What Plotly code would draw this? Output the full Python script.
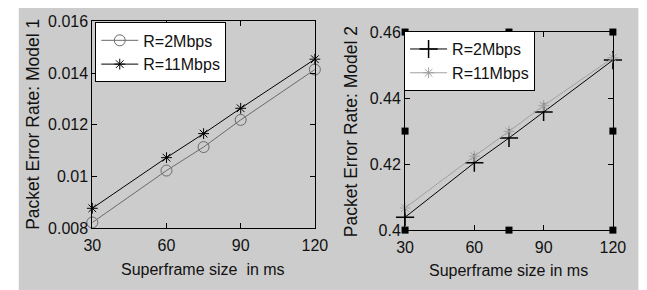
import plotly.graph_objects as go

W, H = 647, 290
# the photographed page appears slightly stretched; compensate positions
SX, SY = 1.02, 1.04

# ---- data ----
superframe_ms = [30, 60, 75, 90, 120]
model1_2mbps = [0.00822, 0.01023, 0.01114, 0.01219, 0.01414]
model1_11mbps = [0.00877, 0.01073, 0.01166, 0.01264, 0.01454]
model2_2mbps = [0.4039, 0.4204, 0.4279, 0.4358, 0.4515]
model2_11mbps = [0.4067, 0.4224, 0.4299, 0.4377, 0.4522]

# MATLAB selection handles visible on the right axes
handle_x = [30, 75, 120, 30, 120, 30, 75, 120]
handle_y = [0.46, 0.46, 0.46, 0.43, 0.43, 0.40, 0.40, 0.40]

x_ticks = [30, 60, 90, 120]
y1_ticks = [0.008, 0.010, 0.012, 0.014, 0.016]
y1_ticktext = ["0.008", "0.01", "0.012", "0.014", "0.016"]
y2_ticks = [0.40, 0.42, 0.44, 0.46]
y2_ticktext = ["0.4", "0.42", "0.44", "0.46"]

FONT = "Liberation Sans, Arial, sans-serif"
TXT = "#111111"


def px(xp):
    return xp / SX / W


def py(yp):
    return 1 - yp / SY / H


fig = go.Figure()

fig.add_trace(go.Scatter(
    x=superframe_ms, y=model1_2mbps, name="R=2Mbps", mode="lines+markers",
    line=dict(color="#6a6a6a", width=1),
    marker=dict(symbol="circle-open", size=11, color="#6a6a6a", line=dict(width=1)),
    xaxis="x", yaxis="y", legend="legend", cliponaxis=False))
fig.add_trace(go.Scatter(
    x=superframe_ms, y=model1_11mbps, name="R=11Mbps", mode="lines+markers",
    line=dict(color="#000000", width=1),
    marker=dict(symbol="asterisk-open", size=9, color="#000000", line=dict(width=1)),
    xaxis="x", yaxis="y", legend="legend", cliponaxis=False))

fig.add_trace(go.Scatter(
    x=superframe_ms, y=model2_2mbps, name="R=2Mbps", mode="lines+markers",
    line=dict(color="#000000", width=1),
    marker=dict(symbol="cross-thin-open", size=13, color="#000000", line=dict(width=1.5)),
    xaxis="x2", yaxis="y2", legend="legend2", cliponaxis=False))
fig.add_trace(go.Scatter(
    x=superframe_ms, y=model2_11mbps, name="R=11Mbps", mode="lines+markers",
    line=dict(color="#a0a0a0", width=1),
    marker=dict(symbol="asterisk-open", size=9, color="#a0a0a0", line=dict(width=1)),
    xaxis="x2", yaxis="y2", legend="legend2", cliponaxis=False))
fig.add_trace(go.Scatter(
    x=handle_x, y=handle_y, mode="markers", showlegend=False,
    marker=dict(symbol="square", size=7, color="#000000"),
    xaxis="x2", yaxis="y2", cliponaxis=False, hoverinfo="skip"))

axis_common = dict(
    showgrid=False, zeroline=False, showline=True, linecolor="#000000", linewidth=1,
    mirror="ticks", ticks="inside", ticklen=5, tickwidth=1, tickcolor="#000000",
    tickfont=dict(family=FONT, size=16, color=TXT), automargin=False,
)

legend_common = dict(
    xanchor="left", yanchor="top", bgcolor="#ffffff", bordercolor="#000000",
    borderwidth=1, font=dict(family=FONT, size=16, color=TXT),
    tracegroupgap=0, itemwidth=37,
)

fig.update_layout(
    template="none",
    width=W, height=H,
    margin=dict(l=0, r=0, t=0, b=0),
    paper_bgcolor="#ffffff",
    plot_bgcolor="#ffffff",
    xaxis=dict(domain=[px(86), px(313)], range=[30, 120], tickvals=x_ticks,
               anchor="y", ticklabelstandoff=3, **axis_common),
    yaxis=dict(domain=[py(229), py(14)], range=[0.008, 0.016], tickvals=y1_ticks,
               ticktext=y1_ticktext, anchor="x", **axis_common),
    xaxis2=dict(domain=[px(405), px(617)], range=[30, 120], tickvals=x_ticks,
                anchor="y2", ticklabelstandoff=3, **axis_common),
    yaxis2=dict(domain=[py(231), py(25)], range=[0.40, 0.46], tickvals=y2_ticks,
                ticktext=y2_ticktext, anchor="x2", **axis_common),
    legend=dict(x=px(89), y=py(15), **legend_common),
    legend2=dict(x=px(404), y=py(24), **legend_common),
    showlegend=True,
    shapes=[dict(type="rect", xref="paper", yref="paper", x0=px(11), x1=1.1,
                 y0=-0.1, y1=1, fillcolor="#cccccc", line=dict(width=0), layer="below"),
            dict(type="rect", xref="paper", yref="paper", x0=px(643), x1=1.1,
                 y0=-0.1, y1=1, fillcolor="#ffffff", line=dict(width=0), layer="below")],
    annotations=[
        dict(text="Superframe size  in ms", xref="paper", yref="paper",
             x=px(199), y=py(272), showarrow=False, xanchor="center", yanchor="middle",
             font=dict(family=FONT, size=16, color=TXT)),
        dict(text="Superframe size in ms", xref="paper", yref="paper",
             x=px(510), y=py(273), showarrow=False, xanchor="center", yanchor="middle",
             font=dict(family=FONT, size=16, color=TXT)),
        dict(text="Packet Error Rate: Model 1", xref="paper", yref="paper",
             x=px(26), y=py(121), showarrow=False, textangle=-90,
             xanchor="center", yanchor="middle",
             font=dict(family=FONT, size=17.5, color=TXT)),
        dict(text="Packet Error Rate: Model 2", xref="paper", yref="paper",
             x=px(350), y=py(129), showarrow=False, textangle=-90,
             xanchor="center", yanchor="middle",
             font=dict(family=FONT, size=17.5, color=TXT)),
    ],
)

fig.write_html("out.html")
